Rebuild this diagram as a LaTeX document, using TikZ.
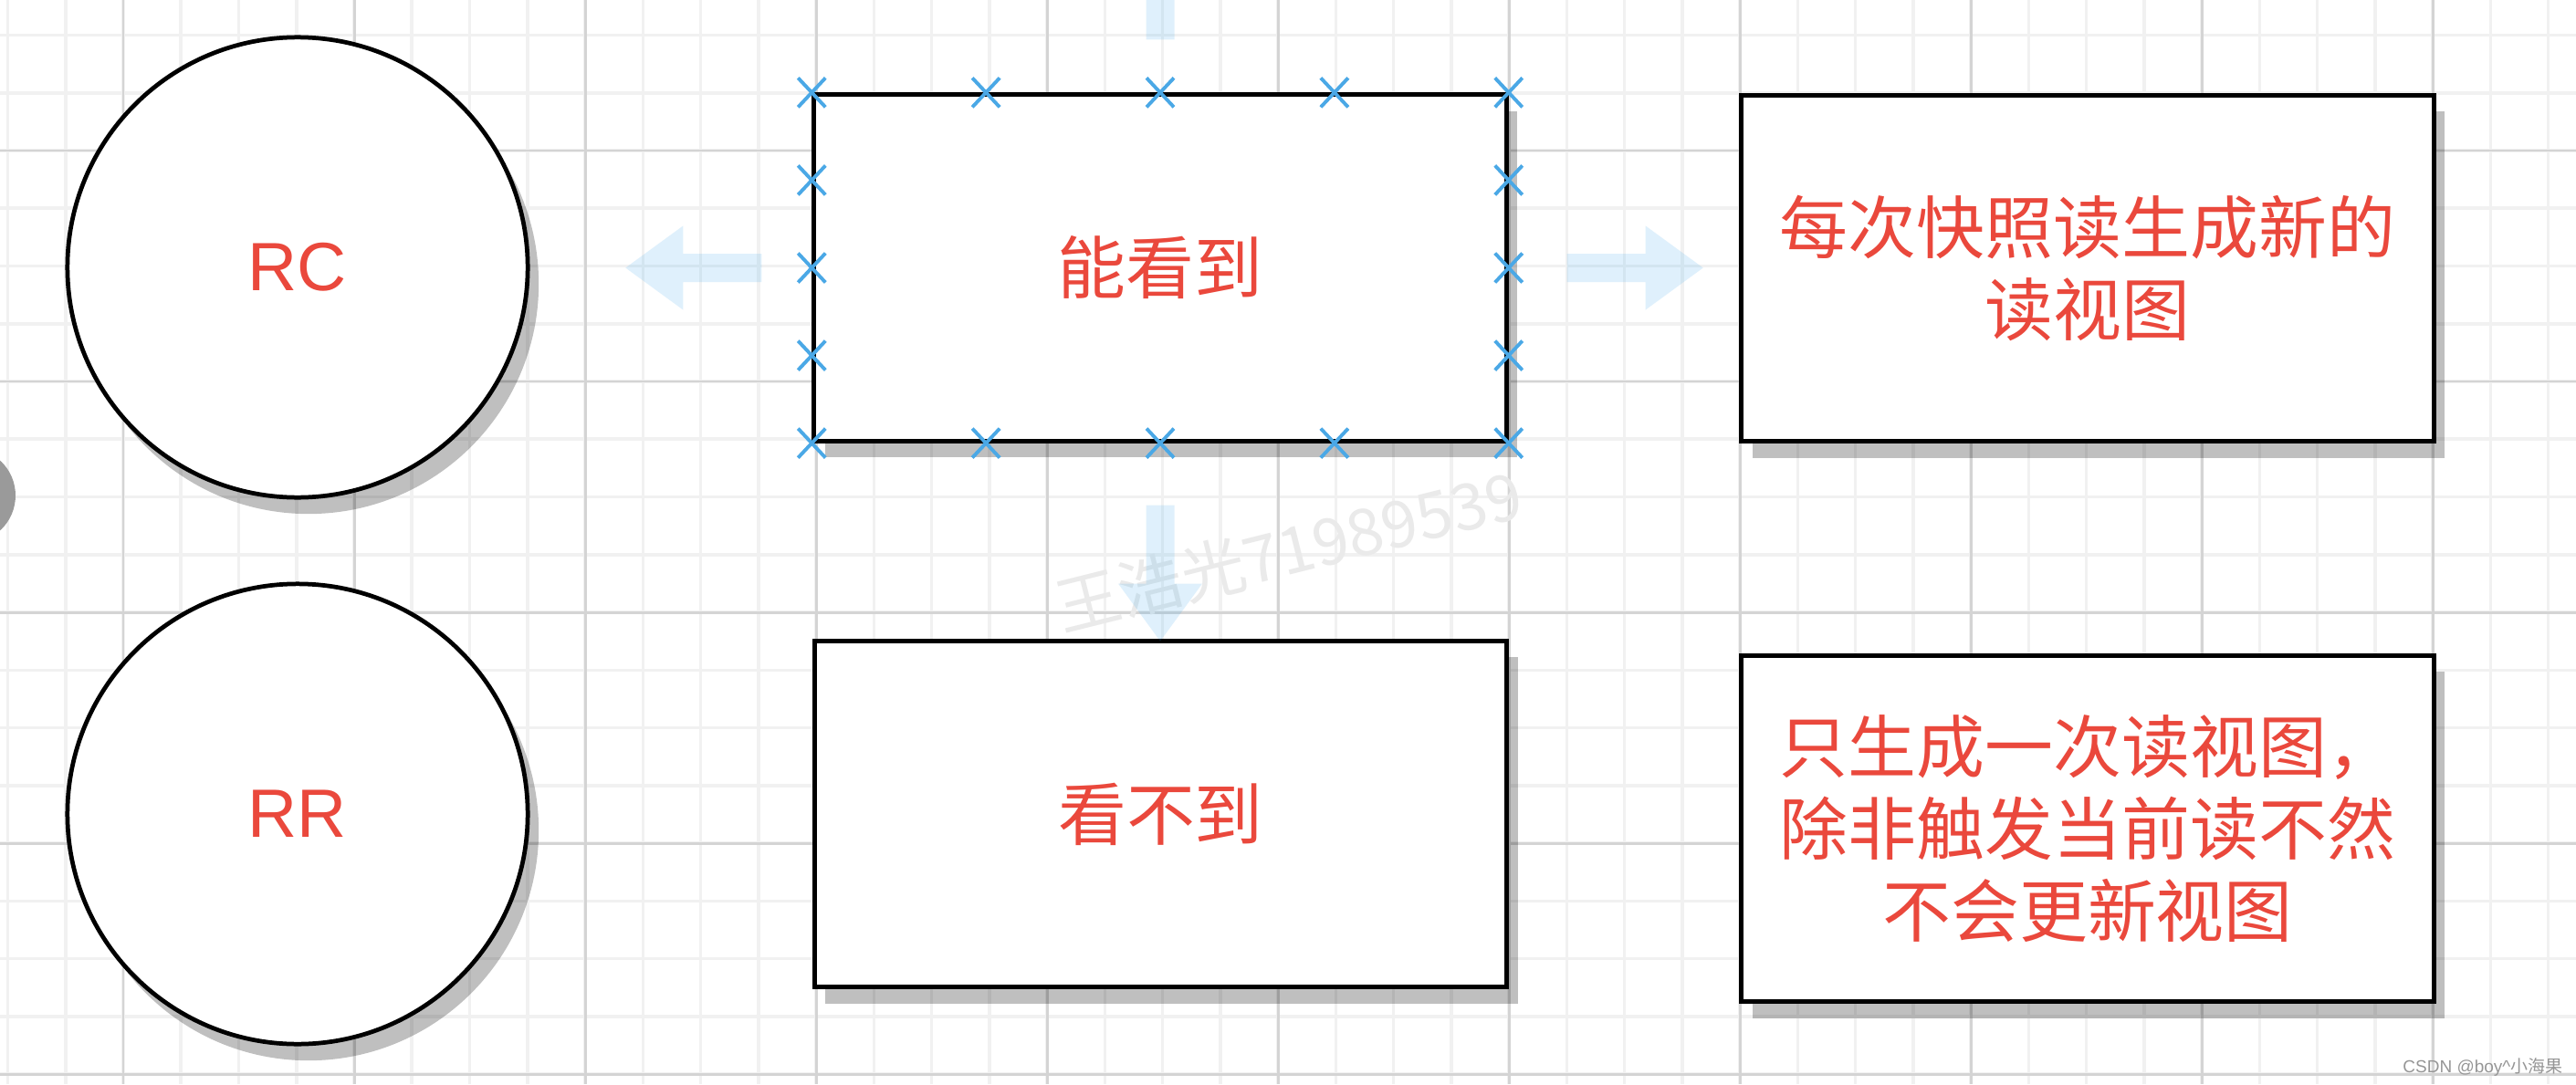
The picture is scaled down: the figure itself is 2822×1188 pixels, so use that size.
\documentclass[tikz,border=0pt]{standalone}
\usepackage{fontspec}
\setmainfont{Liberation Sans}
\newfontfamily\cjk{Noto Sans CJK SC}
\usetikzlibrary{calc,shadows}
\definecolor{txtred}{RGB}{234,72,60}
\definecolor{minorgrid}{RGB}{241,241,241}
\definecolor{majorgrid}{RGB}{212,212,212}
\definecolor{hintblue}{RGB}{41,161,235}
\definecolor{handleblue}{RGB}{74,168,230}
\definecolor{wmgray}{RGB}{150,150,150}
\definecolor{faintgray}{RGB}{234,234,234}
\definecolor{dotgray}{RGB}{154,154,154}
\tikzset{
  shapeshadow/.style={drop shadow={shadow xshift=0.12cm, shadow yshift=-0.18cm, opacity=0.25, fill=black}},
  roundnode/.style={circle, draw=black, line width=1.35pt, fill=white, minimum size=5.04cm, inner sep=0pt, shapeshadow, text=txtred, font=\fontsize{21.3}{26}\selectfont},
  boxnode/.style={rectangle, draw=black, line width=1.42pt, fill=white, minimum width=7.58cm, minimum height=3.79cm, inner sep=0pt, shapeshadow, text=txtred, align=center, font=\cjk\fontsize{21.3}{25.6}\selectfont},
  hint/.style={fill=hintblue, fill opacity=0.15},
  handle/.style={draw=handleblue, line width=1.1pt},
  gridminor/.style={draw=minorgrid, line width=1pt},
  gridmajor/.style={draw=majorgrid, line width=0.85pt},
}
\newcommand\hintarrow[2]{\fill[hint, shift={#1}, rotate=#2] (0,-15.5) -- (86,-15.5) -- (86,-46) -- (149,0) -- (86,46) -- (86,15.5) -- (0,15.5) -- cycle;}
\begin{document}
\begin{tikzpicture}[x=0.01cm,y=-0.01cm]
\useasboundingbox (0,0) rectangle (2822,1188);
\fill[white] (0,0) rectangle (2822,1188);
% grid
\begin{scope}
\clip (0,0) rectangle (2822,1188);
\foreach \i in {0,...,44} \draw[gridminor] ({8.5+63.25*\i},0) -- ({8.5+63.25*\i},1188);
\foreach \i in {0,...,18} \draw[gridminor] (0,{38.5+63.25*\i}) -- (2822,{38.5+63.25*\i});
\foreach \i in {0,...,10} \draw[gridmajor] ({135+253*\i},0) -- ({135+253*\i},1188);
\foreach \i in {0,...,4} \draw[gridmajor] (0,{165+253*\i}) -- (2822,{165+253*\i});
\end{scope}
% faint watermark
\node[rotate=14, text=faintgray, font=\cjk\fontsize{20}{24}\selectfont, inner sep=0pt] (wm) at (1412,603) {王浩光71989539};
% nodes
\node[roundnode] (rc) at (326,293) {RC};
\node[roundnode] (rr) at (326,892) {RR};
\node[boxnode] (see) at (1271,293.5) {能看到};
\node[boxnode] (notsee) at (1271.5,892) {看不到};
\node[boxnode] (rcnote) at (2287,294) {每次快照读生成新的\\读视图};
\node[boxnode] (rrnote) at (2287,908) {只生成一次读视图，\\除非触发当前读不然\\不会更新视图};
% hover arrows
\hintarrow{($(see.west)+(-55,0)$)}{180}
\hintarrow{($(see.east)+(64,0)$)}{0}
\hintarrow{($(see.south)+(0,68)$)}{-90}
\hintarrow{($(see.north)+(0,-58)$)}{90}
% selection handles
\foreach \t in {0,0.25,0.5,0.75,1} {
  \draw[handle] ($(see.north west)!\t!(see.north east)$) +(-15,-16) -- +(15,16) +(-15,16) -- +(15,-16);
  \draw[handle] ($(see.south west)!\t!(see.south east)$) +(-15,-16) -- +(15,16) +(-15,16) -- +(15,-16);
}
\foreach \t in {0.25,0.5,0.75} {
  \draw[handle] ($(see.north west)!\t!(see.south west)$) +(-15,-16) -- +(15,16) +(-15,16) -- +(15,-16);
  \draw[handle] ($(see.north east)!\t!(see.south east)$) +(-15,-16) -- +(15,16) +(-15,16) -- +(15,-16);
}
% grey dot at left edge
\fill[dotgray] (-35,543) circle[radius=52];
% CSDN mark
\node[anchor=base east, text=wmgray, font=\fontsize{5.4}{7}\selectfont, inner sep=0pt] (csdn) at (2808,1175) {CSDN @boy\textasciicircum{\cjk 小海果}};
\end{tikzpicture}
\end{document}
